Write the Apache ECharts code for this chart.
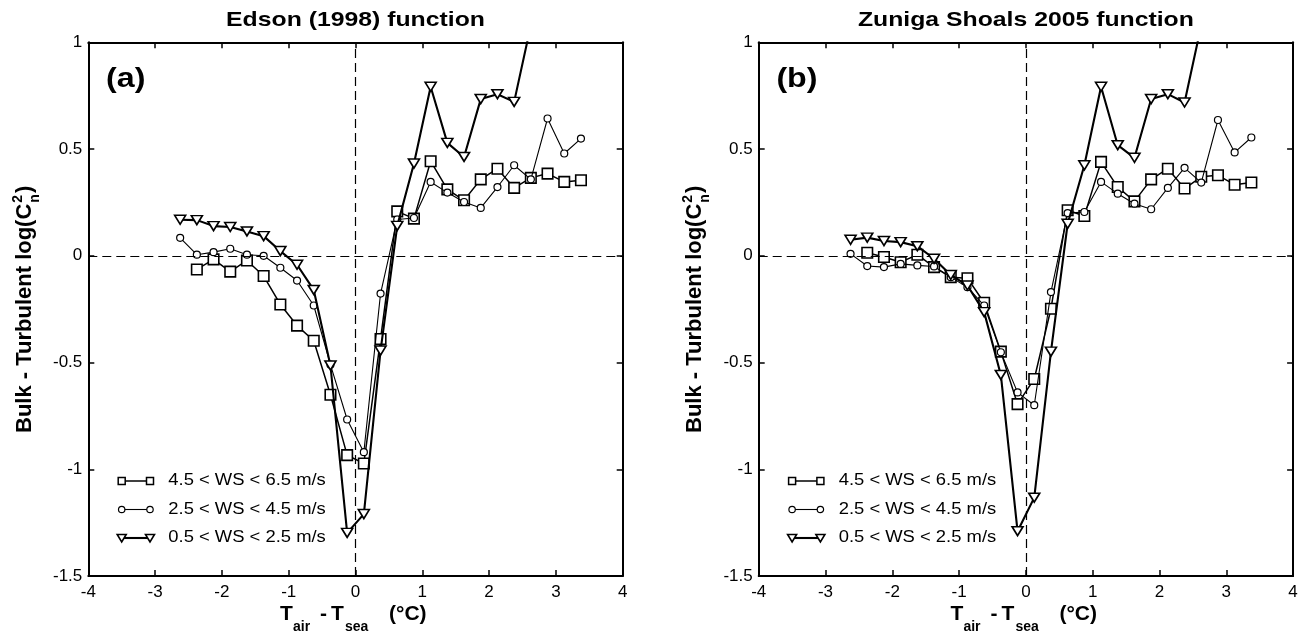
<!DOCTYPE html>
<html><head><meta charset="utf-8">
<script src="https://cdn.jsdelivr.net/npm/echarts@6/dist/echarts.min.js"></script>
<style>html,body{margin:0;padding:0;background:#fff}#c{width:1304px;height:637px}</style>
</head><body><div id="c"></div>
<script>
// ---- data ----
const xs = [-2.625, -2.375, -2.125, -1.875, -1.625, -1.375, -1.125, -0.875, -0.625, -0.375, -0.125, 0.125, 0.375, 0.625, 0.875, 1.125, 1.375, 1.625, 1.875, 2.125, 2.375, 2.625, 2.875, 3.125, 3.375];
// Edson (1998) function
const edsonHigh = [null, -0.064, -0.017, -0.074, -0.022, -0.095, -0.228, -0.327, -0.398, -0.651, -0.934, -0.973, -0.39, 0.208, 0.174, 0.443, 0.311, 0.26, 0.358, 0.408, 0.318, 0.365, 0.385, 0.346, 0.354];
const edsonMid = [0.084, 0.005, 0.017, 0.033, 0.005, 0.0, -0.056, -0.116, -0.233, -0.51, -0.767, -0.92, -0.177, 0.17, 0.177, 0.346, 0.296, 0.252, 0.224, 0.322, 0.424, 0.358, 0.643, 0.479, 0.549];
const edsonLow = [0.169, 0.167, 0.139, 0.135, 0.114, 0.092, 0.022, -0.042, -0.16, -0.514, -1.298, -1.21, -0.444, 0.14, 0.432, 0.792, 0.529, 0.463, 0.734, 0.757, 0.721, 1.08, null, null, null];
// Zuniga Shoals 2005 function
const zunigaHigh = [null, 0.014, -0.006, -0.03, 0.005, -0.053, -0.1, -0.105, -0.22, -0.449, -0.695, -0.577, -0.248, 0.213, 0.186, 0.44, 0.322, 0.255, 0.358, 0.408, 0.315, 0.37, 0.377, 0.333, 0.343];
const zunigaMid = [0.009, -0.048, -0.053, -0.038, -0.045, -0.05, -0.1, -0.147, -0.233, -0.452, -0.64, -0.70, -0.17, 0.2, 0.205, 0.346, 0.291, 0.244, 0.218, 0.318, 0.412, 0.343, 0.636, 0.484, 0.554];
const zunigaLow = [0.075, 0.085, 0.069, 0.064, 0.045, -0.014, -0.09, -0.139, -0.264, -0.558, -1.29, -1.133, -0.449, 0.15, 0.424, 0.792, 0.518, 0.459, 0.734, 0.757, 0.718, 1.08, null, null, null];

const panelTitles = ['Edson (1998) function', 'Zuniga Shoals 2005 function'];
const panelLetters = ['(a)', '(b)'];
const seriesNames = ['4.5 < WS < 6.5 m/s', '2.5 < WS < 4.5 m/s', '0.5 < WS < 2.5 m/s'];
const panelData = [[edsonHigh, edsonMid, edsonLow], [zunigaHigh, zunigaMid, zunigaLow]];
const xMin = -4, xMax = 4, xStep = 1;
const yMin = -1.5, yMax = 1, yStep = 0.5;

// ---- styles ----
const FONT = '"Liberation Sans", Arial, sans-serif';
const grids = [
  {left: 88.3, top: 42.3, width: 534.4, height: 533.7},
  {left: 758.7, top: 42.3, width: 534.4, height: 533.7}
];
const marker = [
  {symbol: 'rect', size: 10.5, rotate: 0, lw: 1.5, bw: 1.6},
  {symbol: 'circle', size: 7, rotate: 0, lw: 1.1, bw: 1.2},
  {symbol: 'triangle', size: [11, 9], rotate: 180, lw: 2.1, bw: 1.6}
];

const chart = echarts.init(document.getElementById('c'), null, {renderer: 'canvas'});

const xAxes = [], yAxes = [], series = [];
grids.forEach((g, gi) => {
  ['bottom', 'top'].forEach(pos => xAxes.push({
    type: 'value', gridIndex: gi, position: pos, min: xMin, max: xMax, interval: xStep,
    axisLine: {show: true, onZero: false, lineStyle: {color: '#000', width: 2}},
    axisTick: {show: true, inside: true, length: 6, lineStyle: {color: '#000', width: 1.5}},
    axisLabel: {show: pos === 'bottom', color: '#000', fontSize: 17, fontFamily: FONT, margin: 8},
    splitLine: {show: false}
  }));
  ['left', 'right'].forEach(pos => yAxes.push({
    type: 'value', gridIndex: gi, position: pos, min: yMin, max: yMax, interval: yStep,
    axisLine: {show: true, onZero: false, lineStyle: {color: '#000', width: 2}},
    axisTick: {show: true, inside: true, length: 6, lineStyle: {color: '#000', width: 1.5}},
    axisLabel: {show: pos === 'left', color: '#000', fontSize: 17, fontFamily: FONT, margin: 6},
    splitLine: {show: false}
  }));
  panelData[gi].forEach((arr, si) => {
    const m = marker[si];
    const s = {
      type: 'line', name: seriesNames[si],
      xAxisIndex: gi * 2, yAxisIndex: gi * 2,
      data: xs.map((x, i) => [x, arr[i]]).filter(p => p[1] !== null),
      symbol: m.symbol, symbolSize: m.size, symbolRotate: m.rotate, showAllSymbol: true,
      lineStyle: {color: '#000', width: m.lw},
      itemStyle: {color: '#fff', borderColor: '#000', borderWidth: m.bw},
      emphasis: {disabled: true}, clip: true, z: 3 + si
    };
    if (si === 0) {
      s.markLine = {
        silent: true, symbol: 'none', label: {show: false}, animation: false,
        lineStyle: {color: '#000', width: 1.2, type: [9, 5]},
        data: [{xAxis: 0}, {yAxis: 0}]
      };
    }
    series.push(s);
  });
});

// ---- text / legend graphics ----
const mctx = document.createElement('canvas').getContext('2d');
function measure(t, font) { mctx.font = font; return mctx.measureText(t).width; }

const graphic = [];
grids.forEach((g, gi) => {
  const dx = g.left - grids[0].left;
  const cx = g.left + g.width / 2;
  // title
  graphic.push({type: 'text', x: cx, y: 20.5, scaleX: 1.18, style: {
    text: panelTitles[gi], fill: '#000', fontSize: 21, fontWeight: 'bold', fontFamily: FONT,
    align: 'center', verticalAlign: 'middle'}});
  // panel letter
  graphic.push({type: 'text', x: 106 + dx, y: 79, scaleX: 1.15, style: {
    text: panelLetters[gi], fill: '#000', fontSize: 28, fontWeight: 'bold', fontFamily: FONT,
    align: 'left', verticalAlign: 'middle'}});
  // legend
  const rowsY = [481, 509.5, 538];
  rowsY.forEach((ry, si) => {
    const x1 = 121.7 + dx, x2 = 150 + dx;
    const lw = marker[si].lw;
    graphic.push({type: 'line', shape: {x1: x1, y1: ry, x2: x2, y2: ry}, style: {stroke: '#000', lineWidth: lw}});
    [x1, x2].forEach(px => {
      if (si === 0) graphic.push({type: 'rect', shape: {x: px - 3.5, y: ry - 3.5, width: 7, height: 7}, style: {fill: '#fff', stroke: '#000', lineWidth: 1.5}});
      else if (si === 1) graphic.push({type: 'circle', shape: {cx: px, cy: ry, r: 3.2}, style: {fill: '#fff', stroke: '#000', lineWidth: 1.2}});
      else graphic.push({type: 'polygon', shape: {points: [[px - 4.5, ry - 3.5], [px + 4.5, ry - 3.5], [px, ry + 4]]}, style: {fill: '#fff', stroke: '#000', lineWidth: 1.6}});
    });
    graphic.push({type: 'text', x: 168.3 + dx, y: ry, scaleX: 1.15, style: {
      text: seriesNames[si], fill: '#000', fontSize: 16, fontFamily: FONT, align: 'left', verticalAlign: 'middle'}});
  });
  // x-axis title: T_air - T_sea (°C)
  const big = 21, small = 14, yb = 614.5, ys = 627;
  const xt = [
    {t: 'T', x: 280, y: yb, f: big},
    {t: 'air', x: 293, y: ys, f: small},
    {t: '-', x: 320, y: yb, f: big},
    {t: 'T', x: 331, y: yb, f: big},
    {t: 'sea', x: 345, y: ys, f: small},
    {t: '(°C)', x: 389, y: yb, f: big}
  ];
  xt.forEach(p => graphic.push({type: 'text', x: p.x + dx, y: p.y, style: {
    text: p.t, fill: '#000', fontSize: p.f, fontWeight: 'bold', fontFamily: FONT, align: 'left', verticalAlign: 'middle'}}));
  // y-axis title: Bulk - Turbulent log(C^2_n)
  const yf = 22, ysf = 14;
  const mainT = 'Bulk - Turbulent log(C';
  const w1 = measure(mainT, 'bold ' + yf + 'px ' + FONT);
  const w2 = measure('n', 'bold ' + ysf + 'px ' + FONT);
  graphic.push({type: 'group', x: 25 + dx, y: 433, rotation: Math.PI / 2, children: [
    {type: 'text', x: 0, y: 0, style: {text: mainT, fill: '#000', fontSize: yf, fontWeight: 'bold', fontFamily: FONT, align: 'left', verticalAlign: 'middle'}},
    {type: 'text', x: w1 + 1, y: -7, style: {text: '2', fill: '#000', fontSize: ysf, fontWeight: 'bold', fontFamily: FONT, align: 'left', verticalAlign: 'middle'}},
    {type: 'text', x: w1 + 1, y: 10, style: {text: 'n', fill: '#000', fontSize: ysf, fontWeight: 'bold', fontFamily: FONT, align: 'left', verticalAlign: 'middle'}},
    {type: 'text', x: w1 + w2 + 2, y: 0, style: {text: ')', fill: '#000', fontSize: yf, fontWeight: 'bold', fontFamily: FONT, align: 'left', verticalAlign: 'middle'}}
  ]});
});

chart.setOption({
  animation: false,
  backgroundColor: '#fff',
  grid: grids,
  xAxis: xAxes,
  yAxis: yAxes,
  series: series,
  graphic: graphic
});
</script>
</body></html>
